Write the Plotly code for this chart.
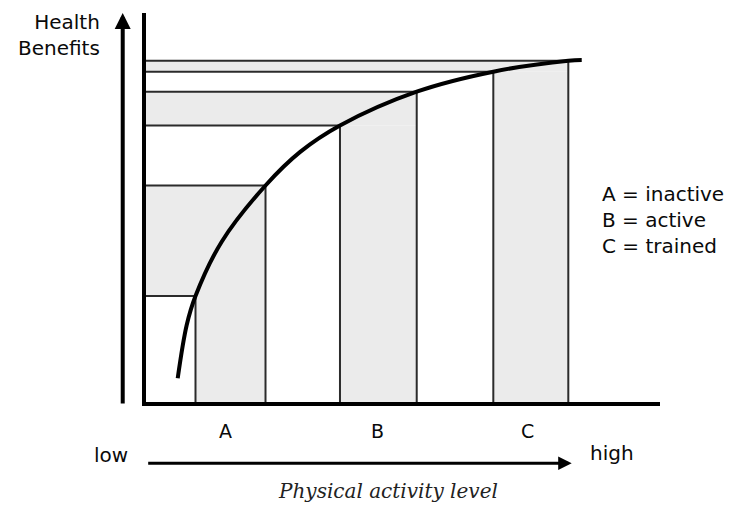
import plotly.graph_objects as go

# ---- data (activity level 0-10, health benefit 0-10) ----
curve_x = [0.617, 0.792, 0.963, 1.473, 2.325, 3.000, 3.774, 5.267, 6.757, 8.216, 8.477]
curve_y = [0.609, 1.979, 2.725, 4.121, 5.566, 6.430, 7.108, 7.977, 8.491, 8.774, 8.792]

level_x = [0.963, 2.325, 3.774, 5.267, 6.757, 8.216]
level_y = [2.725, 5.566, 7.108, 7.977, 8.491, 8.774]

groups = ["A", "B", "C"]
group_desc = ["inactive", "active", "trained"]
group_label_x = [1.553, 4.504, 7.422]

FILL = "#ebebeb"
THIN = "#2b2b2b"
FONT = "DejaVu Sans"
TXT = "#0a0a0a"

fig = go.Figure()

shapes = []
for g in range(len(groups)):
    xl, xh = level_x[2 * g], level_x[2 * g + 1]
    yl, yh = level_y[2 * g], level_y[2 * g + 1]
    shapes.append(dict(type="rect", xref="x", yref="y", x0=0, x1=xh, y0=yl, y1=yh,
                       fillcolor=FILL, line=dict(width=0), layer="below"))
    shapes.append(dict(type="rect", xref="x", yref="y", x0=xl, x1=xh, y0=0, y1=yl,
                       fillcolor=FILL, line=dict(width=0), layer="below"))
for lx, ly in zip(level_x, level_y):
    shapes.append(dict(type="line", xref="x", yref="y", x0=0, x1=lx, y0=ly, y1=ly,
                       line=dict(color=THIN, width=2), layer="below"))
    shapes.append(dict(type="line", xref="x", yref="y", x0=lx, x1=lx, y0=0, y1=ly,
                       line=dict(color=THIN, width=2), layer="below"))

fig.add_trace(go.Scatter(x=curve_x, y=curve_y, mode="lines",
                         line=dict(color="black", width=4, shape="spline", smoothing=1),
                         hoverinfo="skip", showlegend=False, cliponaxis=False))

annotations = []
# vertical arrow (Health Benefits)
annotations.append(dict(x=-0.0453, y=1.0, xref="paper", yref="paper", ax=0, ay=392,
                        text="", showarrow=True, arrowhead=2, arrowsize=0.8, arrowwidth=4,
                        arrowcolor="black", standoff=0))
# horizontal arrow (low -> high)
annotations.append(dict(x=8.282, y=-0.1576, xref="x", yref="paper", ax=-425, ay=0,
                        text="", showarrow=True, arrowhead=2, arrowsize=0.9, arrowwidth=3,
                        arrowcolor="black", standoff=0))
annotations.append(dict(x=-0.0856, y=0.943, xref="paper", yref="paper", text="Health<br>Benefits",
                        showarrow=False, xanchor="right", yanchor="middle", align="right",
                        font=dict(family=FONT, size=20, color=TXT)))
for lab, lx in zip(groups, group_label_x):
    annotations.append(dict(x=lx, y=-0.0733, xref="x", yref="paper", text=lab, showarrow=False,
                            xanchor="center", yanchor="middle",
                            font=dict(family=FONT, size=19, color=TXT)))
annotations.append(dict(x=8.83, y=4.68, xref="x", yref="y",
                        text="<br>".join(f"{g} = {d}" for g, d in zip(groups, group_desc)),
                        showarrow=False, xanchor="left", yanchor="middle", align="left",
                        font=dict(family=FONT, size=20, color=TXT)))
annotations.append(dict(x=-0.0311, y=-0.136, xref="paper", yref="paper", text="low",
                        showarrow=False, xanchor="right", yanchor="middle",
                        font=dict(family=FONT, size=20, color=TXT)))
annotations.append(dict(x=8.60, y=-0.131, xref="x", yref="paper", text="high", showarrow=False,
                        xanchor="left", yanchor="middle",
                        font=dict(family=FONT, size=20, color=TXT)))
annotations.append(dict(x=4.708, y=-0.2285, xref="x", yref="paper",
                        text="<i>Physical activity level</i>",
                        showarrow=False, xanchor="center", yanchor="middle", borderpad=0,
                        font=dict(family="DejaVu Serif", size=20, color="#222")))

fig.update_layout(
    width=727, height=499,
    margin=dict(l=138, r=75, t=5, b=105),
    paper_bgcolor="white", plot_bgcolor="white",
    shapes=shapes, annotations=annotations,
    xaxis=dict(range=[0, 10], showgrid=False, zeroline=False, showticklabels=False,
               ticks="", showline=True, linecolor="black", linewidth=3.5, fixedrange=True),
    yaxis=dict(range=[0, 10], showgrid=False, zeroline=False, showticklabels=False,
               ticks="", showline=True, linecolor="black", linewidth=3.5, fixedrange=True),
)

fig.write_html("out.html")
